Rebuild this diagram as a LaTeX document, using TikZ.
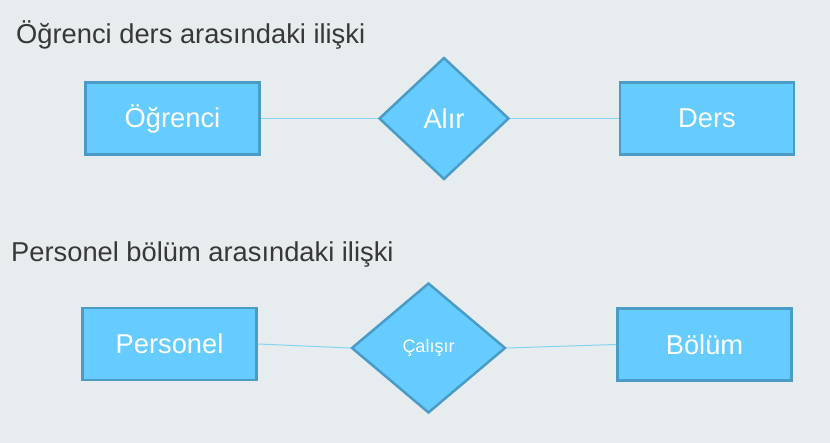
\documentclass[tikz,border=0pt]{standalone}
\usepackage{fontspec}
\setmainfont{Liberation Sans}
\usetikzlibrary{positioning, shapes.geometric}
\definecolor{backcol}{HTML}{E7ECEE}
\definecolor{boxfill}{HTML}{66CCFF}
\definecolor{boxline}{HTML}{4A9BC6}
\definecolor{linkcol}{HTML}{86D2F2}
\definecolor{titlecol}{HTML}{383838}

\begin{document}
\begin{tikzpicture}
    [
        x=1pt, y=-1pt, on grid,
        entity_node/.style={rectangle, draw=boxline, fill=boxfill, line width=2.5pt, minimum width=174pt, minimum height=72pt, text=white, font=\fontsize{27.3}{31}\selectfont},
        relation_node/.style={diamond, draw=boxline, fill=boxfill, line width=2.5pt, inner sep=0pt, text=white, font=\fontsize{27.3}{31}\selectfont},
        title_node/.style={anchor=base west, inner sep=0pt, text=titlecol, font=\fontsize{27.3}{31}\selectfont},
    ]
        \fill[backcol] (0,0) rectangle (830,443) ;
        \useasboundingbox (0,0) rectangle (830,443) ;
        % first diagram
        \node[title_node] (title1) at (16,44) {Öğrenci ders arasındaki ilişki} ;
        \node[entity_node] (ogrenci) at (172.5,118.5) {Öğrenci} ;
        \node[relation_node, minimum width=130pt, minimum height=122pt] (alir) [right = 271.5pt of ogrenci] {Alır} ;
        \node[entity_node] (ders) [right = 263pt of alir] {Ders} ;
        \draw[line width=1pt, color=linkcol] (ogrenci.east) -- (alir.west) ;
        \draw[line width=1pt, color=linkcol] (alir.east) -- (ders.west) ;
        % second diagram
        \node[title_node] (title2) at (11,262) {Personel bölüm arasındaki ilişki} ;
        \node[entity_node] (personel) at (169.5,344) {Personel} ;
        \node[relation_node, minimum width=154pt, minimum height=130pt, font=\fontsize{18}{22}\selectfont] (calisir) at (428.5,348) {Çalışır} ;
        \node[entity_node] (bolum) [right = 276pt of calisir, yshift=3.5pt] {Bölüm} ;
        \draw[line width=1pt, color=linkcol] (personel.east) -- (calisir.west) ;
        \draw[line width=1pt, color=linkcol] (calisir.east) -- (bolum.west) ;
    \end{tikzpicture}
\end{document}
